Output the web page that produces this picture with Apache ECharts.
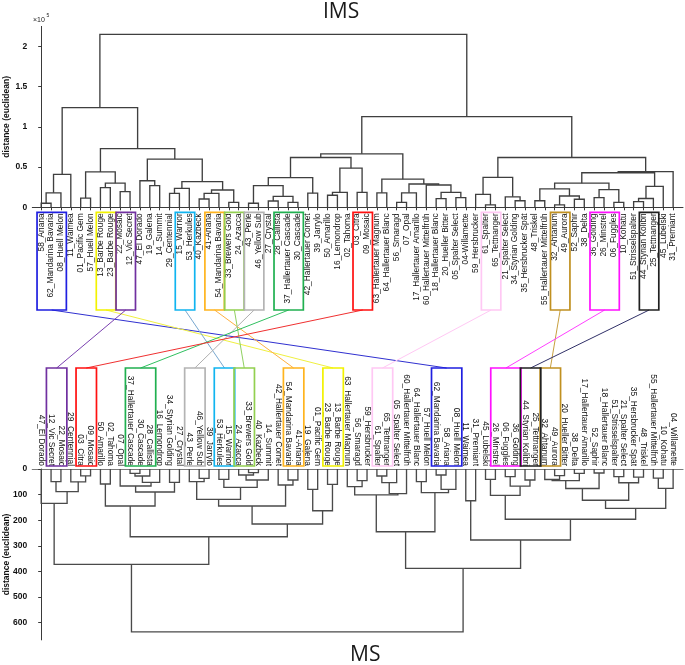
<!DOCTYPE html>
<html><head><meta charset="utf-8">
<script src="https://cdn.jsdelivr.net/npm/echarts@6/dist/echarts.min.js"></script>
<style>html,body{margin:0;padding:0;background:#fff}#c{width:685px;height:665px}</style>
</head><body><div id="c"></div><script>
// ---- data ----
const topLabels = ["58_Ariana","62_Mandarina Bavaria","08_Huell Melon","11_Waimea","01_Pacific Gem","57_Huell Melon","13_Barbe Rouge","23_Barbe Rouge","22_Mosaic","12_Vic Secret","47_El Dorado","19_Galena","14_Summit","29_Centennial","15_Warrior","53_Herkules","40_Kazbeck","41-Ariana","54_Mandarina Bavaria","33_Brewers Gold","24_Azacca","43_Perle","46_Yellow Sub","27_Crystal","28_Callista","37_Hallertauer Cascade","30_Cascade","42_Hallertauer Comet","39_Jarrylo","50_Amarillo","16_Lemondrop","02_Tahoma","03_Citra","09_Mosaic","63_Hallertauer Magnum","64_Hallertauer Blanc","56_Smaragd","07_Opal","17_Hallertauer Amarillo","60_Hallertauer Mittelfrüh","18_Hallertauer Blanc","20_Hueller Bitter","05_Spalter Select","04-Willamette","59_Hersbrucker","61_Spalter","65_Tettnanger","21_Spalter Select","34_Styrian Golding","35_Hersbrucker Spät","48_Triskel","55_Hallertauer Mittelfrüh","32_Ahtanum","49_Aurora","52_Saphir","38_Delta","36_Golding","26_Minstrel","06_Fuggles","10_Kohatu","51_Strisselspalter","44_Styrian Kolibri","25_Tettnanger","45_Lubelski","31_Premiant"];
const bottomLabels = ["47_El Dorado","12_Vic Secret","22_Mosaic","29_Centennial","03_Citra","09_Mosaic","50_Amarillo","02_Tahoma","07_Opal","37_Hallertauer Cascade","30_Cascade","28_Callista","16_Lemondrop","34_Styrian Golding","27_Crystal","43_Perle","46_Yellow Sub","39_Jarrylo","53_Herkules","15_Warrior","24_Azacca","33_Brewers Gold","40_Kazbeck","14_Summit","42_Hallertauer Comet","54_Mandarina Bavaria","41-Ariana","19_Galena","01_Pacific Gem","23_Barbe Rouge","13_Barbe Rouge","63_Hallertauer Magnum","56_Smaragd","59_Hersbrucker","61_Spalter","65_Tettnanger","05_Spalter Select","60_Hallertauer Mittelfrüh","64_Hallertauer Blanc","57_Huell Melon","62_Mandarina Bavaria","58_Ariana","08_Huell Melon","11_Waimea","31_Premiant","45_Lubelski","26_Minstrel","06_Fuggles","36_Golding","44_Styrian Kolibri","25_Tettnanger","32_Ahtanum","49_Aurora","20_Hueller Bitter","38_Delta","17_Hallertauer Amarillo","52_Saphir","18_Hallertauer Blanc","51_Strisselspalter","21_Spalter Select","35_Hersbrucker Spät","48_Triskel","55_Hallertauer Mittelfrüh","10_Kohatu","04_Willamette"];
// merges: [left, right, height]; numbers < 100 are leaf positions, 100+k refers to merge k
const topMerges = [
 [0,1,0.05],[100,2,0.18],[101,3,0.41],[4,5,0.115],[6,7,0.245],[8,9,0.195],[104,105,0.30],[103,106,0.44],
 [11,12,0.27],[10,108,0.33],[13,14,0.174],[110,15,0.236],[16,17,0.103],[112,18,0.174],[19,20,0.062],[113,114,0.215],
 [111,115,0.32],[109,116,0.60],[107,117,0.73],[102,118,1.24],[21,22,0.05],[23,24,0.078],[25,26,0.062],[121,122,0.135],
 [120,123,0.27],[27,28,0.176],[124,125,0.37],[29,30,0.15],[127,31,0.185],[32,33,0.185],[128,129,0.487],[126,130,0.62],
 [34,35,0.18],[36,37,0.062],[133,38,0.18],[40,41,0.107],[42,43,0.12],[135,136,0.186],[39,137,0.277],[134,138,0.29],
 [132,139,0.35],[131,140,0.665],[45,46,0.03],[44,142,0.16],[48,49,0.082],[47,144,0.13],[143,145,0.373],[50,51,0.082],
 [52,53,0.03],[54,55,0.10],[148,149,0.14],[147,150,0.23],[56,57,0.12],[58,59,0.062],[152,153,0.22],[151,154,0.30],
 [60,61,0.07],[156,62,0.11],[157,63,0.26],[155,158,0.43],[159,64,0.443],[146,160,0.62],[141,161,1.127],[119,162,2.15]
];
const bottomMerges = [
 [1,2,49],[4,5,27],[3,101,50],[100,102,88.5],[0,103,134],[6,7,58.6],[9,10,17],[106,11,27.3],
 [107,12,52],[8,108,66.4],[13,14,52],[109,110,89.8],[105,111,144.5],[16,17,36.5],[15,113,49.5],[18,19,40.4],
 [21,22,14.3],[20,116,23.4],[117,23,43],[115,118,71.6],[114,119,118.5],[25,26,43],[24,121,62.5],[120,122,144.5],
 [27,28,79.4],[29,30,60],[124,125,162.8],[123,126,214.8],[112,127,264.4],[104,128,372],[32,33,45.6],[31,130,69],
 [34,35,27.3],[132,36,53],[133,37,96],[131,134,101],[38,39,49.5],[40,41,23.4],[137,42,79.4],[136,138,92.4],
 [135,139,245],[43,44,124],[45,46,40.4],[47,48,30],[49,50,43],[143,144,67],[142,145,103],[52,53,26],
 [51,147,41],[54,55,17],[148,149,45.3],[56,57,15.6],[150,151,76],[58,59,30],[60,61,32],[153,154,53.5],
 [152,155,122],[62,63,35.5],[157,64,75.5],[156,158,153.6],[146,159,196],[141,160,277],[140,161,388],[129,162,635.5]
];
const topYTicks = [0, 0.5, 1, 1.5, 2];
const bottomYTicks = [0, 100, 200, 300, 400, 500, 600];
// matched groups: leaf position ranges in top and bottom dendrogram
const topGroups =    [[0,2],[6,7],[8,9],[14,15],[17,18],[19,20],[21,22],[24,26],[32,33],[45,46],[52,53],[56,58],[61,62]];
const bottomGroups = [[40,42],[29,30],[1,2],[18,19],[25,26],[20,21],[15,16],[9,11],[4,5],[34,35],[51,52],[46,48],[49,50]];
const boxColors =  ['#1f1fe0','#f2f200','#7030a0','#10b4f0','#ffb41e','#92d050','#b4b4b4','#20b050','#ff1010','#ffc8f4','#c09020','#ff10ff','#202020'];
const linkColors = ['#3030d0','#f0f040','#7a40b0','#78a8d0','#ffb040','#90d060','#b0b0b0','#30c060','#f03030','#ffc8f4','#c8a040','#ff40ff','#303068'];

// ---- build ----
function dendro(merges) {
  const pos = [], hh = [];
  const node = r => r >= 100 ? [pos[r-100], hh[r-100]] : [r, 0];
  return merges.map(([a, b, h], k) => {
    const A = node(a), B = node(b);
    pos[k] = (A[0] + B[0]) / 2; hh[k] = h;
    return { coords: [[A[0], A[1]], [A[0], h], [B[0], h], [B[0], B[1]]] };
  });
}
const leafIdx = topLabels.map((_, i) => i);
const lblFont = 'Liberation Sans, Arial, sans-serif';

const chart = echarts.init(document.getElementById('c'), null, {renderer: 'canvas'});
const yName = {
  name: 'distance (euclidean)', nameLocation: 'middle', nameRotate: 90, nameGap: 21, nameMoveOverlap: false,
  nameTextStyle: {fontSize: 8.5, fontWeight: 'bold', color: '#111', fontFamily: lblFont}
};
const option = {
  animation: false,
  backgroundColor: '#fff',
  title: [
    {text: 'IMS', left: 318, top: -3, textStyle: {fontSize: 21, fontWeight: 'normal', color: '#1a1a1a', fontFamily: 'Open Sans, sans-serif'}},
    {text: 'MS', left: 345, top: 640, textStyle: {fontSize: 21, fontWeight: 'normal', color: '#1a1a1a', fontFamily: 'Open Sans, sans-serif'}}
  ],
  grid: [
    {left: 32.3, right: 2, top: 26.4, height: 180.9, outerBoundsMode: 'none', containLabel: false},
    {left: 32.3, right: 2, top: 469, height: 170.9, outerBoundsMode: 'none', containLabel: false}
  ],
  xAxis: [
    {gridIndex: 0, type: 'value', min: -0.9, max: 65, position: 'bottom',
     axisLine: {show: true, onZero: false, lineStyle: {color: '#3a3a3a', width: 1}},
     axisTick: {show: true, customValues: leafIdx, length: 3, lineStyle: {color: '#3a3a3a'}},
     axisLabel: {show: true, customValues: leafIdx, rotate: 90, margin: 6, fontSize: 8.4, color: '#111', fontFamily: lblFont,
                 hideOverlap: false, formatter: v => topLabels[Math.round(v)]},
     splitLine: {show: false}},
    {gridIndex: 1, type: 'value', min: -0.9, max: 65, position: 'top',
     axisLine: {show: true, onZero: false, lineStyle: {color: '#7a7a7a', width: 1.2}},
     axisTick: {show: false},
     axisLabel: {show: true, customValues: leafIdx, rotate: 90, margin: 3, fontSize: 8.4, color: '#111', fontFamily: lblFont,
                 hideOverlap: false, formatter: v => bottomLabels[Math.round(v)]},
     splitLine: {show: false}}
  ],
  yAxis: [
    Object.assign({gridIndex: 0, type: 'value', min: 0, max: 2.25,
     axisLine: {show: true, lineStyle: {color: '#3a3a3a'}},
     axisTick: {show: true, customValues: topYTicks, length: 3, lineStyle: {color: '#3a3a3a'}},
     axisLabel: {customValues: topYTicks, margin: 5, fontSize: 8.5, fontWeight: 'bold', color: '#111', fontFamily: lblFont,
                 formatter: v => String(v)},
     splitLine: {show: false}}, yName),
    Object.assign({gridIndex: 1, type: 'value', min: 0, max: 667, inverse: true,
     axisLine: {show: true, lineStyle: {color: '#3a3a3a'}},
     axisTick: {show: true, customValues: bottomYTicks, length: 3, lineStyle: {color: '#3a3a3a'}},
     axisLabel: {customValues: bottomYTicks, margin: 5, fontSize: 8.5, fontWeight: 'bold', color: '#111', fontFamily: lblFont,
                 formatter: v => String(v)},
     splitLine: {show: false}}, yName)
  ],
  series: [
    {type: 'lines', coordinateSystem: 'cartesian2d', xAxisIndex: 0, yAxisIndex: 0, polyline: true, silent: true,
     lineStyle: {color: '#3f3f3f', width: 1.35, opacity: 1}, data: dendro(topMerges)},
    {type: 'lines', coordinateSystem: 'cartesian2d', xAxisIndex: 1, yAxisIndex: 1, polyline: true, silent: true,
     lineStyle: {color: '#4a4a4a', width: 1.35, opacity: 1}, data: dendro(bottomMerges)}
  ]
};
chart.setOption(option);

// boxes and connectors, positioned through the axes' own scales
const px = (g, x, y) => chart.convertToPixel({xAxisIndex: g, yAxisIndex: g}, [x, y]);
const topBase = px(0, 0, 0)[1];
const botBase = px(1, 0, 0)[1];
const gfx = [
  {type: 'text', left: 33, top: 16.5, style: {text: '×10', fontSize: 7, fill: '#222', fontFamily: lblFont}},
  {type: 'text', left: 46.5, top: 13.5, style: {text: '5', fontSize: 5, fill: '#222', fontFamily: lblFont}}
];
topGroups.forEach((g, i) => {
  const x1 = px(0, g[0] - 0.42, 0)[0], x2 = px(0, g[1] + 0.55, 0)[0];
  const y1 = topBase + 5, y2 = topBase + 102.7;
  const b = bottomGroups[i];
  const bx1 = px(1, b[0] - 0.47, 0)[0], bx2 = px(1, b[1] + 0.6, 0)[0];
  const by1 = botBase - 101, by2 = botBase - 3;
  gfx.push({type: 'line', z: 5, shape: {x1: (x1 + x2) / 2, y1: y2, x2: (bx1 + bx2) / 2, y2: by1}, style: {stroke: linkColors[i], lineWidth: 1}});
  gfx.push({type: 'rect', z: 6, shape: {x: x1, y: y1, width: x2 - x1, height: y2 - y1}, style: {fill: 'none', stroke: boxColors[i], lineWidth: 1.7}});
  gfx.push({type: 'rect', z: 6, shape: {x: bx1, y: by1, width: bx2 - bx1, height: by2 - by1}, style: {fill: 'none', stroke: boxColors[i], lineWidth: 1.7}});
});
chart.setOption({graphic: gfx});
</script></body></html>
